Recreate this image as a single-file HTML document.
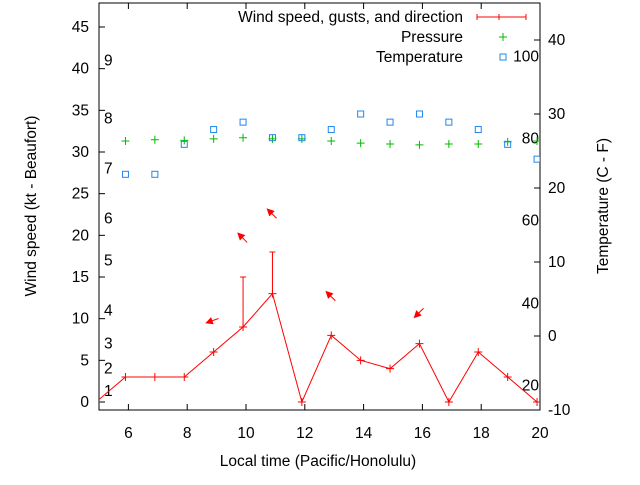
<!DOCTYPE html>
<html><head><meta charset="utf-8"><style>
body{margin:0;background:#fff}
svg{font-family:"Liberation Sans",sans-serif;font-size:15.5px}
</style></head><body>
<svg id="c" width="640" height="480" xmlns="http://www.w3.org/2000/svg"></svg>
<script>
const hours=[4.9,5.9,6.9,7.9,8.9,9.9,10.9,11.9,12.9,13.9,14.9,15.9,16.9,17.9,18.9,19.9];
const wind=[0,3,3,3,6,9,13,0,8,5,4,7,0,6,3,0];
const gustHours=[9.9,10.9];
const gusts=[15,18];
const dirHours=[8.9,9.9,10.9,12.9,15.9];
const dirLevel=[9.9,19.4,22.3,12.4,11];
const dirAngle=[200,135,135,135,225];
const ptHours=[5.9,6.9,7.9,8.9,9.9,10.9,11.9,12.9,13.9,14.9,15.9,16.9,17.9,18.9,19.9];
const pressure=[1016,1016.4,1016.2,1016.7,1017.1,1016.7,1016.7,1016,1015.3,1015,1014.7,1015,1015,1015.7,1016];
const temperature=[21.85,21.85,25.9,27.9,28.9,26.8,26.8,27.9,30,28.9,30,28.9,27.9,25.9,23.9];
const xTicks=[6,8,10,12,14,16,18,20];
const yTicks=[0,5,10,15,20,25,30,35,40,45];
const y2Ticks=[-10,0,10,20,30,40];
const bft=[[1,1.3],[2,4],[3,7],[4,11],[5,17],[6,22],[7,28],[8,34],[9,41]];
const fLabels=[[100,37.8],[80,26.7],[60,15.6],[40,4.4],[20,-6.7]];
const L=99,R=540,T=3,B=410;
const X=h=>L+(h-5)*(R-L)/15;
const Y=v=>402-v*375/45;
const Y2=t=>336-t*7.4;
const YP=p=>141-(p-1016)*3;
const svg=document.getElementById('c');
function el(tag,attrs,txt){const e=document.createElementNS('http://www.w3.org/2000/svg',tag);for(const k in attrs)e.setAttribute(k,attrs[k]);if(txt!==undefined)e.textContent=txt;svg.appendChild(e);return e;}
const clip=el('clipPath',{id:'pc'});const cr=document.createElementNS('http://www.w3.org/2000/svg','rect');
cr.setAttribute('x',L);cr.setAttribute('y',T);cr.setAttribute('width',R-L);cr.setAttribute('height',B-T);clip.appendChild(cr);
let e;
e=el('rect',{x:L,y:T,width:R-L,height:B-T,fill:'none',stroke:'#000'});


xTicks.forEach(h=>{
 e=el('line',{x1:X(h),x2:X(h),y1:B,y2:B-6,stroke:'#000'});
 
 
 el('line',{x1:X(h),x2:X(h),y1:T,y2:T+6,stroke:'#000'});
 e=el('text',{x:X(h),y:438,'text-anchor':'middle'},h);
 
 
});
yTicks.forEach(v=>{
 e=el('line',{x1:L,x2:L+6,y1:Y(v),y2:Y(v),stroke:'#000'});
 
 
 e=el('text',{x:89,y:Y(v)+5,'text-anchor':'end'},v);
 
 
});
y2Ticks.forEach(v=>{
 e=el('line',{x1:R-6,x2:R,y1:Y2(v),y2:Y2(v),stroke:'#000'});
 
 
 e=el('text',{x:548,y:Y2(v)+5},v);
 
 
});
bft.forEach(b=>{
 e=el('text',{x:104,y:Y(b[1])+5},b[0]);
 
 
});
fLabels.forEach(f=>{
 e=el('text',{x:539,y:Y2(f[1])+5,'text-anchor':'end'},f[0]);
 
 
});
const g=el('g',{'clip-path':'url(#pc)'});
function add(tag,attrs){const e=document.createElementNS('http://www.w3.org/2000/svg',tag);for(const k in attrs)e.setAttribute(k,attrs[k]);g.appendChild(e);return e;}
function plus(x,y,col,name){const p=add('path',{d:`M${x-4},${y}h8M${x},${y-4}v8`,stroke:col,'stroke-width':1});
 
 }
e=add('polyline',{points:hours.map((h,i)=>X(h)+','+Y(wind[i])).join(' '),fill:'none',stroke:'#f00'});


hours.forEach((h,i)=>plus(X(h),Y(wind[i]),'#f00','wind-point'));
gustHours.forEach((h,i)=>{
 const wi=hours.indexOf(h);
 e=add('path',{d:`M${X(h)},${Y(wind[wi])}V${Y(gusts[i])}M${X(h)-3},${Y(gusts[i])}h6`,stroke:'#f00'});
 
 
});
dirHours.forEach((h,i)=>{
 const a=dirAngle[i]*Math.PI/180,cx=X(h)+2,cy=Y(dirLevel[i]);
 const x2=cx+Math.cos(a)*10,y2=cy-Math.sin(a)*10;
 const bx=Math.cos(a),by=-Math.sin(a);
 e=add('path',{d:`M${cx-bx*3},${cy-by*3}L${x2},${y2}M${x2},${y2}L${x2-bx*6-by*3},${y2-by*6+bx*3}L${x2-bx*6+by*3},${y2-by*6-bx*3}Z`,stroke:'#f00',fill:'#f00','stroke-width':1});
 
 
});
ptHours.forEach((h,i)=>plus(X(h),YP(pressure[i]),'#0b0','pressure-point'));
ptHours.forEach((h,i)=>{
 e=add('rect',{x:X(h)-3,y:Y2(temperature[i])-3,width:6,height:6,fill:'none',stroke:'#1e88ee'});
 
 
});
e=el('text',{x:463,y:22,'text-anchor':'end'},'Wind speed, gusts, and direction');


el('path',{d:'M477,17h49M477,14v6M526,14v6M499,14v6',stroke:'#f00'});
e=el('text',{x:463,y:42,'text-anchor':'end'},'Pressure');


el('path',{d:'M499,37h8M503,33v8',stroke:'#0b0'});
e=el('text',{x:463,y:62,'text-anchor':'end'},'Temperature');


el('rect',{x:500,y:54,width:6,height:6,fill:'none',stroke:'#1e88ee'});
e=el('text',{x:318,y:466,'text-anchor':'middle'},'Local time (Pacific/Honolulu)');


e=el('text',{x:0,y:0,'text-anchor':'middle',transform:'translate(36,206) rotate(-90)'},'Wind speed (kt - Beaufort)');


e=el('text',{x:0,y:0,'text-anchor':'middle',transform:'translate(608,206) rotate(-90)'},'Temperature (C - F)');


</script>
</body></html>
